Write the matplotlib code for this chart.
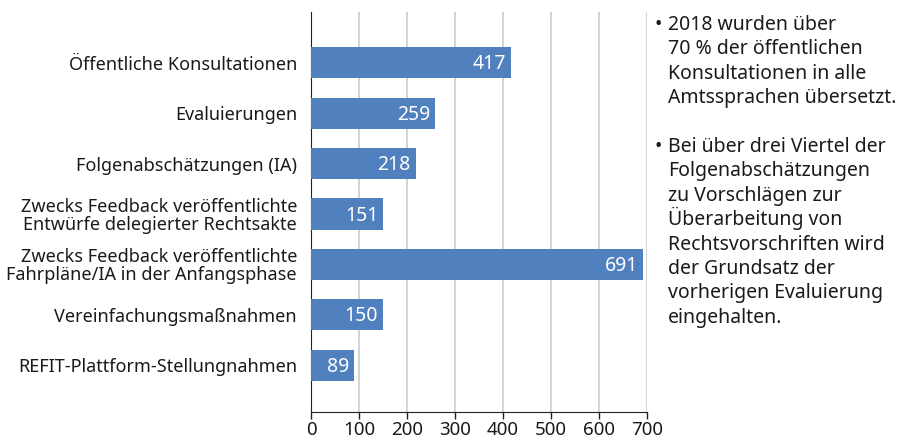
import matplotlib
matplotlib.use('Agg')
import matplotlib.pyplot as plt

plt.rcParams['font.family'] = ['Noto Sans', 'DejaVu Sans']

categories = [
    'Öffentliche Konsultationen',
    'Evaluierungen',
    'Folgenabschätzungen (IA)',
    'Zwecks Feedback veröffentlichte\nEntwürfe delegierter Rechtsakte',
    'Zwecks Feedback veröffentlichte\nFahrpläne/IA in der Anfangsphase',
    'Vereinfachungsmaßnahmen',
    'REFIT-Plattform-Stellungnahmen',
]
values = [417, 259, 218, 151, 691, 150, 89]
x_ticks = [0, 100, 200, 300, 400, 500, 600, 700]

notes = [
    ['2018 wurden über', '70 % der öffentlichen', 'Konsultationen in alle',
     'Amtssprachen übersetzt.'],
    ['Bei über drei Viertel der', 'Folgenabschätzungen', 'zu Vorschlägen zur',
     'Überarbeitung von', 'Rechtsvorschriften wird', 'der Grundsatz der',
     'vorherigen Evaluierung', 'eingehalten.'],
]

bar_color = '#5080be'
text_color = '#1a1a1a'

fig = plt.figure(figsize=(9, 4.41), dpi=100)
ax = fig.add_axes([311 / 900, 1 - 412 / 441, 336 / 900, 400 / 441])

pos = list(range(len(categories)))
ax.barh(pos, values, height=0.62, color=bar_color, zorder=3)
for p, v in zip(pos, values):
    ax.text(v - 10, p + 0.03, str(v), ha='right', va='center', color='white', fontsize=14, zorder=4)

ax.set_ylim(6.93, -1.01)
ax.set_xlim(0, 700)
ax.set_yticks(pos)
ax.set_yticklabels(categories, fontsize=13, color=text_color, linespacing=1.0)
ax.set_xticks(x_ticks)
ax.set_xticklabels([str(t) for t in x_ticks], fontsize=13.5, color=text_color)
ax.tick_params(axis='y', length=0, pad=10)
ax.tick_params(axis='x', direction='out', length=5, width=1, color='#222222', pad=1.5)

ax.xaxis.grid(True, color='#cccccc', linewidth=1.2, zorder=0)
for side in ['top', 'right']:
    ax.spines[side].set_visible(False)
ax.spines['left'].set_color('#222222')
ax.spines['bottom'].set_color('#222222')

# notes on the right, one line at a time so the spacing stays even
line_px = 24.4
for lines, base in zip(notes, [30, 152]):
    fig.text(655 / 900, 1 - base / 441, '•', fontsize=14, va='baseline', ha='left', color=text_color)
    for i, line in enumerate(lines):
        fig.text(668 / 900, 1 - (base + i * line_px) / 441, line, fontsize=14,
                 va='baseline', ha='left', color=text_color)

fig.savefig('out.png', dpi=100)
